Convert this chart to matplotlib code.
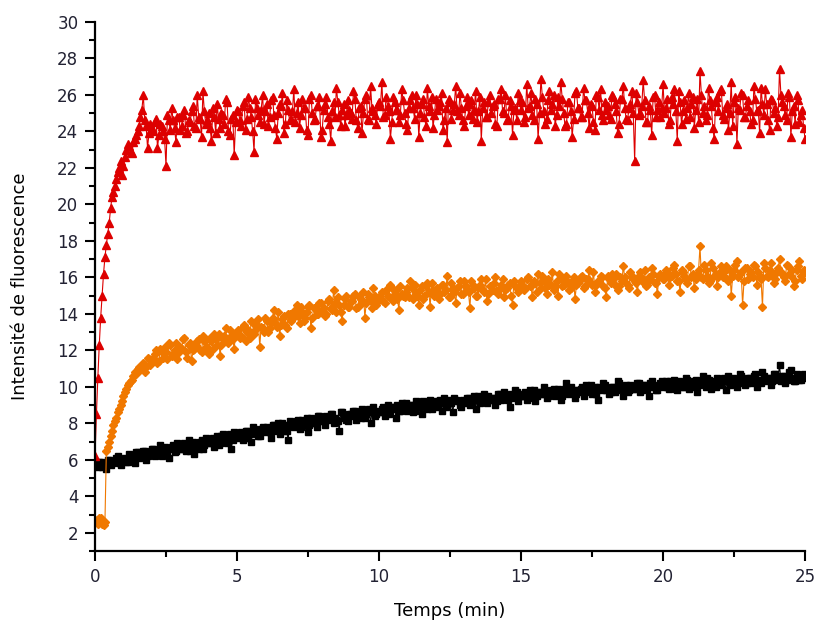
import numpy as np
import matplotlib
matplotlib.use("Agg")
import matplotlib.pyplot as plt
from matplotlib.ticker import MultipleLocator

# mesures toutes les 0.1 min (t = 0, 0.1, ... 25) puis les points intermediaires (t = 0.05, 0.15, ...)
dt = 0.1

rouge = [
    6.2, 10.5, 13.8, 16.2, 17.8, 19.0, 20.4, 21.0, 21.8, 22.4,
    22.1, 23.0, 23.2, 22.8, 23.6, 24.0, 24.8, 26.0, 24.3, 23.9, 24.2,
    24.5, 23.1, 24.4, 24.0, 22.1, 24.6, 25.3, 24.2, 24.8, 24.1,
    24.9, 23.9, 24.6, 25.1, 24.3, 26.0, 24.7, 26.2, 24.4, 25.0,
    23.5, 24.8, 25.5, 24.2, 24.9, 25.8, 24.0, 24.7, 22.7, 25.2,
    24.6, 25.4, 24.1, 25.9, 24.8, 22.9, 25.3, 24.5, 26.0, 25.1,
    24.3, 25.7, 24.9, 23.6, 25.5, 26.1, 24.4, 25.2, 24.7, 26.3,
    25.0, 24.2, 25.8, 25.3, 23.8, 26.0, 24.6, 25.4, 25.9, 24.1,
    25.5, 24.8, 23.5, 25.6, 26.4, 24.9, 25.2, 24.3, 25.7, 25.0,
    26.2, 24.6, 25.3, 23.9, 25.8, 24.7, 26.5, 25.1, 24.4, 25.6,
    26.7, 24.9, 25.4, 23.6, 25.9, 25.2, 24.5, 26.3, 25.0, 24.1,
    25.7, 25.3, 26.0, 23.7, 25.5, 24.8, 26.4, 25.1, 24.2, 25.8,
    25.4, 26.1, 24.6, 23.4, 25.6, 25.2, 26.5, 24.9, 25.3, 24.3,
    25.9, 25.5, 24.7, 26.2, 25.1, 23.5, 25.6, 24.8, 26.0, 25.4,
    24.4, 25.8, 26.3, 25.0, 24.6, 25.7, 23.8, 25.3, 26.1, 25.2,
    24.5, 26.6, 25.4, 24.9, 25.8, 23.6, 26.9, 25.1, 24.7, 26.2,
    25.5, 24.3, 25.9, 26.7, 25.0, 24.4, 25.6, 23.7, 26.1, 25.3,
    24.8, 26.4, 25.7, 24.2, 25.4, 24.1, 25.9, 26.3, 24.6, 25.2,
    24.9, 26.0, 25.5, 23.9, 25.8, 26.5, 24.7, 25.3, 26.2, 22.4,
    25.6, 25.0, 26.8, 24.5, 25.4, 23.8, 26.0, 25.2, 24.8, 26.6,
    25.3, 24.4, 25.9, 26.3, 23.5, 25.6, 25.1, 24.7, 26.1, 25.5,
    24.2, 25.8, 27.3, 25.0, 24.6, 26.4, 25.4, 23.6, 25.9, 26.2,
    24.9, 25.3, 24.1, 26.7, 25.6, 23.3, 25.2, 26.0, 24.8, 25.7,
    24.4, 26.5, 25.1, 23.9, 25.5, 26.3, 24.6, 25.8, 25.0, 24.3,
    27.4, 25.6, 24.9, 26.1, 23.7, 25.4, 26.0, 24.5, 25.2, 23.6,
]
rouge_demi = [
    8.5, 12.3, 15.0, 17.1, 18.4, 19.8, 20.7, 21.4, 22.0, 21.6,
    22.6, 23.3, 22.9, 23.4, 23.8, 24.3, 25.2, 24.6, 23.1, 24.4,
    24.0, 24.7, 23.8, 24.3, 23.6, 24.9, 24.1, 24.6, 23.4, 24.8,
    24.3, 25.2, 24.0, 24.5, 25.4, 24.2, 24.8, 23.7, 25.1, 24.6,
    24.2, 25.3, 23.9, 24.7, 25.0, 24.4, 25.6, 23.8, 24.9, 24.5,
    25.1, 24.3, 25.6, 24.7, 25.3, 24.0, 25.8, 24.9, 25.2, 24.4,
    25.5, 24.8, 25.9, 24.2, 25.0, 25.4, 23.9, 25.7, 24.6, 25.1,
    24.5, 25.6, 24.9, 25.3, 24.1, 25.8, 25.0, 24.7, 25.4, 23.7,
    25.2, 25.9, 24.4, 25.1, 24.8, 25.6, 24.3, 25.5, 24.9, 25.2,
    24.7, 25.8, 24.2, 25.4, 25.0, 26.0, 24.6, 25.3, 24.9, 25.5,
    25.4, 24.8, 25.9, 25.1, 24.5, 25.6, 25.2, 24.9, 25.7, 24.4,
    25.3, 26.0, 24.7, 25.5, 25.0, 25.8, 24.3, 25.4, 25.9, 24.9,
    25.2, 25.6, 24.1, 25.3, 25.8, 24.7, 25.5, 25.1, 26.1, 24.6,
    25.4, 24.9, 25.7, 25.2, 24.5, 25.9, 25.3, 24.8, 25.6, 25.0,
    25.5, 24.3, 25.8, 25.1, 26.0, 24.7, 25.4, 25.2, 24.6, 25.7,
    25.6, 24.8, 25.3, 26.1, 24.6, 25.5, 25.0, 25.9, 24.4, 25.7,
    25.2, 26.0, 24.9, 25.4, 25.8, 24.3, 25.6, 25.1, 24.7, 26.2,
    25.3, 24.8, 25.7, 25.0, 25.5, 24.5, 26.0, 25.2, 24.9, 25.6,
    25.4, 24.7, 25.9, 25.1, 24.4, 25.8, 25.3, 24.6, 25.5, 25.0,
    26.1, 24.9, 25.4, 25.7, 24.5, 25.2, 25.9, 24.8, 25.6, 25.3,
    25.0, 25.8, 24.6, 25.5, 25.1, 26.2, 24.4, 25.7, 25.3, 24.8,
    25.9, 25.2, 24.5, 26.0, 25.4, 24.9, 25.7, 24.2, 25.6, 25.1,
    26.3, 24.7, 25.5, 25.0, 24.3, 25.9, 25.3, 26.1, 24.8, 25.4,
    25.1, 24.6, 25.8, 25.2, 26.4, 24.9, 25.5, 24.1, 25.7, 25.3,
    24.8, 26.0, 25.4, 24.6, 25.9, 25.1, 24.4, 25.7, 24.9, 24.2,
]

orange = [
    2.7, 2.5, 2.8, 2.4, 6.5,
    7.0, 7.6, 8.1, 8.6, 9.0, 9.5, 9.9, 10.2, 10.4, 10.8,
    11.0, 10.9, 11.3, 11.1, 11.5, 11.4,
    11.8, 11.3, 12.1, 11.6, 11.9, 12.4, 11.7, 12.0, 11.5, 12.2,
    12.6, 11.9, 12.3, 11.4, 12.1, 12.5, 12.0, 12.8, 12.2, 11.8,
    12.5, 12.9, 12.3, 11.7, 12.6, 13.2, 12.4, 12.8, 12.1, 13.0,
    12.7, 13.3, 12.5, 13.1, 13.6, 12.9, 13.4, 12.2, 13.2, 13.8,
    13.0, 13.5, 14.2, 13.3, 12.8, 13.7, 13.4, 14.0, 13.6, 13.9,
    14.5, 13.5, 14.1, 13.8, 14.4, 13.2, 14.3, 14.0, 14.6, 14.2,
    13.9, 14.7, 14.3, 15.3, 14.1, 14.5, 13.6, 14.8, 14.4, 14.7,
    15.0, 14.3, 14.9, 14.6, 13.8, 15.1, 14.7, 15.4, 14.5, 14.9,
    15.2, 14.6, 15.0, 15.6, 14.7, 15.3, 14.2, 15.1, 14.9, 15.4,
    15.8, 14.8, 15.2, 14.5, 15.5, 15.0, 15.7, 14.4, 15.3, 15.1,
    14.8, 15.6, 15.2, 16.1, 14.9, 15.4, 14.6, 15.5, 15.1, 15.8,
    15.3, 14.3, 15.6, 15.0, 15.4, 15.9, 15.2, 14.7, 15.5, 15.3,
    16.0, 15.1, 15.6, 14.9, 15.4, 15.7, 14.5, 15.5, 15.2, 15.8,
    15.3, 15.9, 15.5, 14.9, 15.7, 16.2, 15.4, 15.8, 15.1, 15.6,
    16.3, 15.5, 15.0, 15.9, 15.6, 16.1, 15.3, 15.8, 14.8, 15.7,
    16.0, 15.4, 15.9, 16.4, 15.6, 15.2, 15.8, 16.1, 15.5, 14.9,
    15.9, 16.2, 15.6, 15.3, 16.0, 16.6, 15.7, 15.4, 16.1, 15.8,
    15.2, 16.3, 15.9, 15.5, 16.0, 16.5, 15.7, 15.1, 16.2, 15.9,
    16.4, 15.6, 16.1, 16.7, 15.8, 15.2, 16.3, 15.9, 16.6, 16.0,
    15.4, 16.2, 17.7, 15.9, 16.4, 15.7, 16.8, 16.1, 15.5, 16.3,
    16.0, 16.6, 15.8, 15.0, 16.4, 16.9, 16.2, 14.5, 16.5, 15.9,
    16.3, 16.7, 15.6, 16.1, 14.4, 16.5, 16.0, 16.8, 15.7, 16.3,
    17.0, 16.2, 15.8, 16.6, 16.1, 15.5, 16.4, 16.9, 15.9, 16.3,
]
orange_demi = [
    2.6, 2.8, 2.5, 2.6,
    6.7, 7.3, 7.9, 8.3, 8.8, 9.2, 9.7, 10.1, 10.3, 10.6,
    10.7, 11.1, 11.2, 10.8, 11.6, 11.2,
    11.6, 12.0, 11.4, 11.9, 12.2, 11.5, 12.3, 11.8, 12.4, 11.9,
    12.1, 12.7, 11.6, 12.4, 12.0, 12.3, 12.6, 11.9, 12.5, 12.2,
    12.7, 12.1, 12.6, 12.9, 12.3, 12.8, 12.5, 13.1, 12.6, 12.9,
    13.1, 12.8, 13.4, 13.0, 12.7, 13.5, 13.1, 13.7, 13.3, 13.0,
    13.6, 13.2, 13.8, 13.5, 14.1, 13.4, 13.9, 13.2, 14.0, 13.7,
    14.2, 13.9, 14.4, 13.6, 14.1, 14.5, 13.8, 14.3, 14.0, 14.6,
    14.3, 14.0, 14.8, 14.2, 14.6, 14.9, 14.1, 14.5, 15.0, 14.4,
    14.7, 15.1, 14.4, 14.8, 15.2, 14.6, 14.9, 14.3, 15.0, 14.7,
    15.0, 14.7, 15.3, 14.9, 15.4, 15.1, 14.8, 15.5, 15.0, 15.2,
    14.9, 15.4, 15.6, 15.0, 15.3, 14.8, 15.5, 15.2, 15.7, 15.0,
    15.4, 15.1, 15.6, 15.3, 14.9, 15.7, 15.2, 15.4, 15.8, 15.1,
    15.5, 15.2, 15.8, 15.4, 15.0, 15.6, 15.3, 15.9, 15.1, 15.5,
    15.7, 15.2, 15.4, 15.9, 15.3, 15.6, 15.0, 15.8, 15.4, 15.6,
    15.6, 15.4, 16.0, 15.5, 15.8, 15.2, 15.7, 16.1, 15.4, 15.9,
    15.6, 15.3, 15.8, 16.2, 15.5, 15.9, 15.7, 15.4, 16.0, 15.6,
    15.8, 16.1, 15.5, 15.9, 15.7, 16.3, 15.6, 15.8, 16.0, 15.4,
    16.1, 15.7, 15.9, 16.2, 15.5, 15.8, 16.0, 15.6, 16.3, 15.9,
    15.7, 16.1, 15.8, 16.4, 15.6, 15.9, 16.2, 15.7, 16.0, 16.1,
    15.9, 16.3, 16.0, 16.5, 16.2, 15.8, 16.4, 16.1, 15.7, 16.6,
    16.2, 15.9, 16.4, 16.0, 16.7, 16.1, 15.8, 16.5, 16.2, 16.0,
    16.6, 16.3, 15.9, 16.4, 16.1, 16.7, 16.0, 16.3, 15.8, 16.5,
    16.2, 16.0, 16.6, 16.3, 15.9, 16.8, 16.1, 16.4, 16.2, 15.9,
    16.5, 16.3, 16.0, 16.7, 16.2, 16.4, 15.8, 16.6, 16.1, 16.4,
]

noir = [
    5.8, 5.6, 5.9, 5.7, 5.5, 6.0, 5.8, 5.9, 6.2, 5.7, 6.0,
    5.9, 6.3, 6.1, 5.8, 6.4, 6.2, 6.5, 6.0, 6.3, 6.6,
    6.2, 6.5, 6.8, 6.3, 6.6, 6.1, 6.7, 6.4, 6.9, 6.6,
    6.8, 6.5, 7.1, 6.7, 6.3, 6.9, 7.0, 6.6, 7.2, 6.9,
    7.1, 6.7, 7.3, 6.9, 7.4, 7.0, 7.2, 6.6, 7.5, 7.2,
    7.4, 7.1, 7.6, 7.2, 7.0, 7.7, 7.4, 7.3, 7.8, 7.5,
    7.6, 7.2, 7.9, 7.7, 7.4, 8.0, 7.6, 7.1, 7.9, 7.8,
    8.1, 7.7, 8.2, 7.9, 7.5, 8.3, 8.0, 7.8, 8.4, 8.1,
    7.9, 8.3, 8.5, 8.0, 8.2, 7.6, 8.6, 8.3, 8.1, 8.5,
    8.7, 8.2, 8.4, 8.8, 8.3, 8.6, 8.0, 8.9, 8.5, 8.6,
    8.8, 8.4, 9.0, 8.6, 8.9, 8.3, 8.7, 9.1, 8.8, 8.7,
    9.0, 8.6, 9.2, 8.9, 8.5, 9.1, 8.8, 9.3, 9.0, 8.9,
    9.2, 8.7, 9.4, 9.0, 9.1, 8.6, 9.3, 9.2, 8.9, 9.1,
    9.4, 9.0, 9.3, 8.8, 9.5, 9.2, 9.6, 9.1, 9.3, 9.4,
    9.0, 9.6, 9.3, 9.7, 9.4, 8.9, 9.5, 9.8, 9.2, 9.5,
    9.6, 9.3, 9.8, 9.5, 9.2, 9.7, 9.6, 10.0, 9.4, 9.6,
    9.8, 9.5, 9.9, 9.3, 9.7, 10.2, 9.6, 9.8, 9.4, 9.7,
    9.9, 9.5, 10.1, 9.8, 9.6, 10.0, 9.3, 9.9, 10.2, 9.8,
    9.6, 10.0, 9.7, 10.3, 9.9, 9.5, 10.1, 9.8, 10.0, 9.9,
    10.2, 9.7, 10.1, 9.9, 9.5, 10.3, 10.0, 9.8, 10.2, 10.0,
    10.3, 9.9, 10.1, 10.4, 9.8, 10.2, 10.0, 10.5, 9.9, 10.1,
    10.3, 9.7, 10.2, 10.6, 10.0, 10.4, 9.9, 10.2, 10.5, 10.1,
    10.3, 9.8, 10.6, 10.2, 10.4, 10.0, 10.7, 10.3, 10.1, 10.5,
    10.2, 10.6, 10.0, 10.4, 10.8, 10.3, 10.5, 10.1, 10.7, 10.4,
    11.2, 10.6, 10.2, 10.5, 10.9, 10.3, 10.7, 10.4, 10.6, 10.5,
]
noir_demi = [
    5.7, 5.9, 5.6, 5.8, 6.0, 5.7, 5.9, 6.1, 5.8, 6.0,
    6.1, 5.9, 6.2, 6.0, 6.4, 6.1, 6.3, 6.5, 6.2, 6.4,
    6.6, 6.3, 6.5, 6.2, 6.7, 6.4, 6.6, 6.8, 6.5, 6.7,
    6.6, 6.9, 6.7, 6.5, 7.0, 6.8, 6.6, 7.1, 6.8, 7.0,
    6.9, 7.2, 7.0, 6.8, 7.3, 7.1, 6.9, 7.4, 7.1, 7.3,
    7.3, 7.5, 7.2, 7.6, 7.4, 7.8, 7.5, 7.3, 7.7, 7.6,
    7.8, 7.5, 7.9, 7.6, 8.0, 7.7, 7.9, 7.6, 8.1, 7.9,
    8.0, 8.2, 7.8, 8.1, 8.3, 7.9, 8.2, 8.0, 8.4, 8.2,
    8.1, 8.4, 8.2, 8.5, 8.3, 8.1, 8.6, 8.4, 8.2, 8.5,
    8.4, 8.7, 8.5, 8.3, 8.7, 8.5, 8.8, 8.6, 8.4, 8.7,
    8.6, 8.9, 8.7, 8.5, 8.9, 8.8, 9.0, 8.7, 8.9, 9.1,
    8.8, 9.0, 8.7, 9.1, 9.0, 9.2, 8.9, 9.1, 8.8, 9.2,
    9.0, 9.3, 9.1, 8.9, 9.3, 9.1, 9.4, 9.2, 9.0, 9.3,
    9.2, 9.4, 9.1, 9.5, 9.3, 9.1, 9.4, 9.2, 9.5, 9.3,
    9.4, 9.2, 9.6, 9.4, 9.5, 9.3, 9.6, 9.4, 9.7, 9.5,
    9.5, 9.7, 9.4, 9.6, 9.8, 9.5, 9.7, 9.6, 9.8, 9.5,
    9.7, 9.9, 9.6, 9.8, 9.5, 9.9, 9.7, 10.0, 9.8, 9.6,
    9.8, 10.0, 9.7, 9.9, 10.1, 9.8, 9.6, 10.0, 9.8, 10.1,
    9.9, 9.7, 10.0, 9.8, 10.2, 9.9, 10.0, 9.7, 10.1, 9.9,
    10.0, 10.2, 9.8, 10.1, 9.9, 10.2, 10.0, 9.8, 10.1, 10.3,
    10.1, 10.0, 10.3, 10.1, 9.9, 10.3, 10.2, 10.0, 10.4, 10.2,
    10.0, 10.4, 10.1, 10.3, 10.2, 10.5, 10.1, 10.3, 10.0, 10.4,
    10.2, 10.5, 10.3, 10.1, 10.5, 10.3, 10.2, 10.6, 10.4, 10.2,
    10.5, 10.3, 10.7, 10.4, 10.2, 10.6, 10.4, 10.5, 10.3, 10.7,
    10.5, 10.3, 10.6, 10.4, 10.8, 10.5, 10.3, 10.6, 10.4, 10.7,
]

print(len(rouge), len(rouge_demi), len(orange), len(orange_demi), len(noir), len(noir_demi))


def serie(pleins, demis):
    # entrelace les mesures (t = k*dt) et les mesures intermediaires (t = k*dt + dt/2)
    n = len(pleins) + len(demis)
    t = np.empty(n)
    y = np.empty(n)
    t[0::2] = np.arange(len(pleins)) * dt
    t[1::2] = np.arange(len(demis)) * dt + dt / 2
    y[0::2] = pleins
    y[1::2] = demis
    return t, y


fig = plt.figure(figsize=(8.19, 6.28), dpi=100)
ax = fig.add_axes([0.116, 0.1226, 0.867, 0.8424])

t, y = serie(noir, noir_demi)
ax.plot(t, y, color="black", marker="s", markersize=4.5, linewidth=0.8)
t, y = serie(orange, orange_demi)
ax.plot(t, y, color="#f07800", marker="D", markersize=4, linewidth=0.8)
t, y = serie(rouge, rouge_demi)
ax.plot(t, y, color="#dd0000", marker="^", markersize=5.5, linewidth=0.8)

ax.set_xlim(0, 25)
ax.set_ylim(1, 30)
ax.xaxis.set_major_locator(MultipleLocator(5))
ax.xaxis.set_minor_locator(MultipleLocator(2.5))
ax.yaxis.set_major_locator(MultipleLocator(2))
ax.yaxis.set_minor_locator(MultipleLocator(1))

for s in ["top", "right"]:
    ax.spines[s].set_visible(False)
for s in ["left", "bottom"]:
    ax.spines[s].set_linewidth(1.6)

ax.tick_params(which="major", length=7, width=1.5, labelsize=12, labelcolor="#222233", pad=5)
ax.tick_params(which="minor", length=4, width=1.5)

ax.set_xlabel("Temps (min)", fontsize=13, labelpad=12)
ax.set_ylabel("Intensité de fluorescence", fontsize=13, labelpad=20)

fig.savefig("out.png", dpi=100)
